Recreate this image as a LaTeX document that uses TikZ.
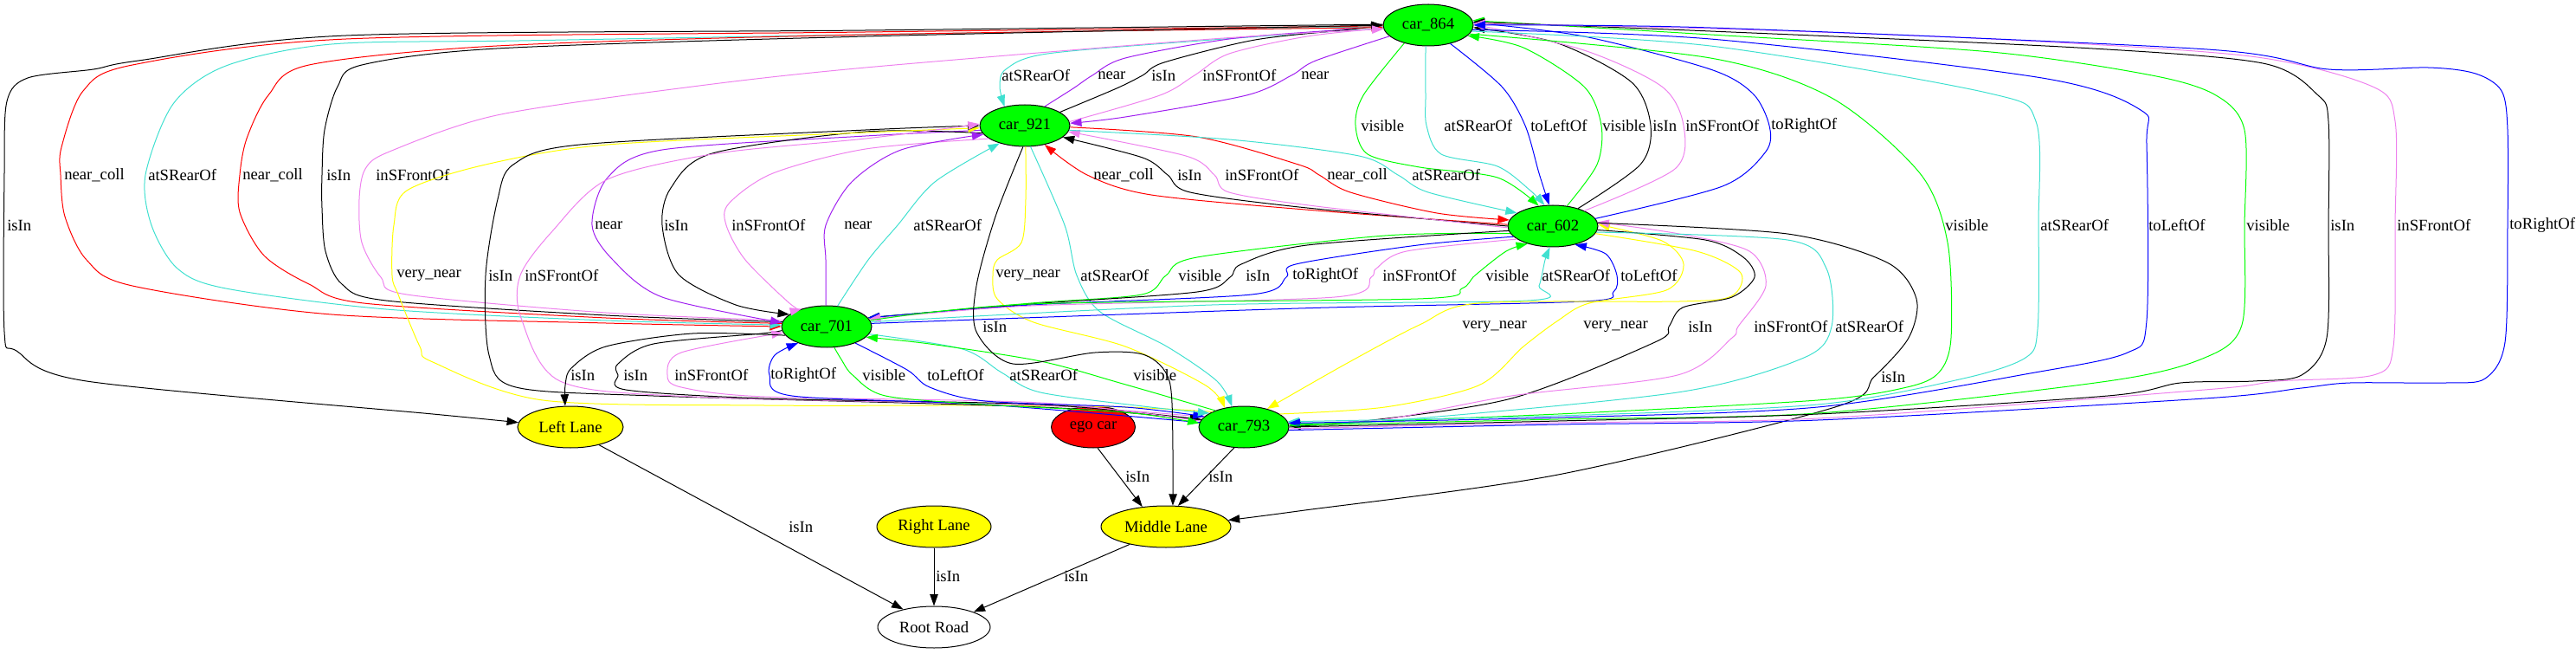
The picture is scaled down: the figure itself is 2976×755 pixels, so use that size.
\documentclass[tikz,border=0pt]{standalone}
\usepackage{fontspec}
\setmainfont{Liberation Serif}
\usetikzlibrary{shapes.geometric,arrows.meta}
\definecolor{gvgreen}{HTML}{00FF00}
\definecolor{gvred}{HTML}{FF0000}
\definecolor{gvyellow}{HTML}{FFFF00}
\definecolor{gvturq}{HTML}{40E0D0}
\definecolor{gvviolet}{HTML}{EE82EE}
\definecolor{gvpurple}{HTML}{A020F0}
\definecolor{gvblue}{HTML}{0000FF}
\newcommand{\gvfont}{\fontsize{14}{16}\selectfont}
\tikzset{
  car/.style={ellipse, draw, line width=0.75pt, fill=gvgreen, minimum width=78pt,
    minimum height=36pt, inner sep=0pt, font=\gvfont},
  lane/.style={car, fill=gvyellow},
  rel/.style={draw=#1, line width=0.75pt, -{Triangle[length=10pt,width=7pt]}},
  rel/.default=black,
  lbl/.style={anchor=west, inner sep=0pt, font=\gvfont}
}
% colour, label name, label position, label text, points of the edge
\newcommand{\relation}[5]{%
  \draw[rel=#1] plot[smooth] coordinates {#5};
  \node[lbl] (#2) at (#3) {#4};}

\begin{document}
\begin{tikzpicture}[x=0.75pt,y=-0.75pt]
\useasboundingbox (0,0) rectangle (2976,755);
% scene graph nodes
\node[car] (c864) at (1650,29) {car\_864};
\node[car] (c921) at (1184,145) {car\_921};
\node[car] (c602) at (1794,261) {car\_602};
\node[car] (c701) at (955,377) {car\_701};
\node[car] (c793) at (1437,493) {car\_793};
\node[lane, minimum width=91.5pt] (ll) at (659,493) {Left Lane};
\node[car, fill=gvred, minimum width=72.75pt] (ego) at (1263,493) {ego car};
\node[lane, minimum width=99pt] (rl) at (1079,608) {Right Lane};
\node[lane, minimum width=112.5pt] (ml) at (1347,608) {Middle Lane};
\node[lane, fill=white, minimum width=97.5pt] (rr) at (1079,724) {Root Road};

% car_864 -- car_921
\relation{gvturq}{l1}{1157,87}{atSRearOf}{(c864.184) (1400,46) (1210,62) (1162,80) (1155,100) (c921.137)}
\relation{gvpurple}{l2}{1268,87}{near}{(c921.44) (1240,102) (1262,87) (1300,67) (1420,45) (1540,35) (c864.181)}
\relation{black}{l3}{1330,87}{isIn}{(c921.21) (1290,102) (1320,87) (1345,72) (1450,46) (1560,34) (c864.180)}
\relation{gvviolet}{l4}{1389,87}{inSFrontOf}{(c921.5) (1340,110) (1380,87) (1420,62) (1510,42) (c864.184)}
\relation{gvpurple}{l5}{1503,87}{near}{(c864.196) (1520,70) (1492,87) (1440,110) (1300,135) (c921.3)}

% car_864 -- car_602
\relation{gvgreen}{l6}{1572,145}{visible}{(c864.217) (1575,110) (1566,145) (1580,178) (1640,193) (1730,205) (c602.125)}
\relation{gvturq}{l7}{1668,145}{atSRearOf}{(c864.263) (1647,110) (1648,145) (1665,178) (1730,192) (1768,220) (c602.112)}
\relation{gvblue}{l8}{1768,145}{toLeftOf}{(c864.320) (1735,100) (1762,145) (1778,200) (c602.100)}
\relation{gvgreen}{l9}{1851,145}{visible}{(c602.55) (1845,190) (1850,145) (1830,100) (1760,55) (c864.345)}
\relation{black}{l10}{1909,145}{isIn}{(c602.35) (1895,190) (1907,145) (1885,95) (1800,50) (c864.357)}
\relation{gvviolet}{l11}{1947,145}{inSFrontOf}{(c602.26) (1935,195) (1945,145) (1920,100) (1830,58) (c864.1)}
\relation{gvblue}{l12}{2046,145}{toRightOf}{(c602.10) (1990,215) (2040,175) (2044,145) (2025,108) (1976,80) (1830,42) (c864.3)}

% car_921 -- car_602
\relation{gvred}{l13}{1263,202}{near\_coll}{(c602.178) (1520,243) (1330,225) (1256,202) (c921.316)}
\relation{black}{l14}{1360,202}{isIn}{(c602.180) (1510,240) (1375,222) (1349,202) (1320,182) (c921.343)}
\relation{gvviolet}{l15}{1415,202}{inSFrontOf}{(c602.182) (1520,238) (1420,222) (1403,202) (1370,180) (c921.352)}
\relation{gvred}{l16}{1533,202}{near\_coll}{(c921.358) (1383,158) (1500,190) (1524,202) (1560,222) (1660,246) (c602.172)}
\relation{gvturq}{l17}{1631,202}{atSRearOf}{(c921.354) (1420,161) (1570,180) (1615,202) (1650,222) (c602.160)}

% car_864 -- car_701, round the left side
\relation{gvred}{l18}{74,202}{near\_coll}{(c864.181) (1000,37) (400,45) (153,75) (96,105) (71,170) (70,202) (75,250) (100,300) (153,330) (383,363) (700,373) (c701.180)}
\relation{gvturq}{l19}{171,202}{atSRearOf}{(c864.182) (1000,40) (600,47) (383,51) (261,76) (200,120) (168,202) (175,260) (205,310) (261,333) (446,357) (700,370) (c701.178)}
\relation{gvred}{l20}{280,202}{near\_coll}{(c701.176) (700,367) (420,350) (357,328) (305,295) (277,245) (277,202) (285,160) (310,110) (357,75) (574,53) (1000,40) (c864.183)}
\relation{black}{l21}{377,202}{isIn}{(c701.174) (700,364) (446,347) (395,328) (376,290) (372,240) (372,202) (375,150) (390,100) (418,75) (574,56) (1000,42) (c864.180)}
\relation{gvviolet}{l22}{434,202}{inSFrontOf}{(c701.172) (700,361) (470,340) (440,320) (418,280) (415,230) (422,195) (450,175) (574,133) (800,100) (1000,78) (1400,45) (c864.185)}
\relation{black}{l23}{8,260}{isIn}{(c864.179) (1000,35) (400,41) (160,70) (108,80) (32,90) (8,117) (5,200) (5,383) (19,405) (100,440) (500,478) (ll.175)}

% car_921 -- car_701
\relation{gvpurple}{l24}{687,260}{near}{(c921.186) (1000,157) (765,173) (702,205) (684,260) (708,300) (765,343) (c701.175)}
\relation{black}{l25}{767,260}{isIn}{(c921.190) (1000,152) (823,177) (775,217) (765,260) (784,317) (850,352) (c701.162)}
\relation{gvviolet}{l26}{845,260}{inSFrontOf}{(c921.200) (1000,172) (893,200) (842,235) (839,260) (861,300) (912,350) (c701.145)}
\relation{gvpurple}{l27}{975,260}{near}{(c701.92) (954,300) (954,260) (984,210) (1041,173) (c921.192)}
\relation{gvturq}{l28}{1055,260}{atSRearOf}{(c701.62) (1003,300) (1037,260) (1080,210) (c921.215)}

% car_921 -- car_793
\relation{gvyellow}{l29}{1150,318}{very\_near}{(c921.272) (1185,230) (1180,280) (1152,300) (1147,318) (1152,345) (1194,372) (1300,400) (1393,445) (c793.135)}
\relation{gvturq}{l30}{1248,318}{atSRearOf}{(c921.285) (1230,260) (1244,318) (1271,360) (1348,400) (1406,440) (c793.120)}
\relation{gvyellow}{l31}{458,318}{very\_near}{(c793.154) (1300,470) (1138,468) (883,468) (627,462) (500,418) (485,400) (460,340) (453,318) (455,260) (470,220) (561,190) (702,167) (1000,153) (c921.183)}
\relation{black}{l32}{564,318}{isIn}{(c793.170) (1202,470) (755,457) (596,447) (565,410) (561,318) (575,230) (593,190) (670,167) (1000,150) (c921.180)}
\relation{gvviolet}{l33}{606,318}{inSFrontOf}{(c793.166) (1202,468) (800,458) (647,440) (602,367) (601,318) (638,267) (702,207) (829,177) (1000,160) (c921.178)}

% car_602 -- car_701
\relation{gvgreen}{l34}{1361,318}{visible}{(c602.190) (1600,272) (1383,297) (1347,318) (1319,340) (1191,350) (c701.12)}
\relation{black}{l35}{1439,318}{isIn}{(c602.186) (1510,283) (1434,305) (1421,320) (1383,337) (1191,351) (c701.12)}
\relation{gvblue}{l36}{1493,318}{toRightOf}{(c602.195) (1638,283) (1497,305) (1486,320) (1446,340) (1191,352) (c701.12)}
\relation{gvviolet}{l37}{1597,318}{inSFrontOf}{(c602.200) (1625,290) (1590,310) (1584,320) (1542,343) (1191,353) (c701.10)}
\relation{gvgreen}{l38}{1716,318}{visible}{(c701.8) (1191,351) (1638,345) (1689,333) (1704,318) (1740,290) (c602.215)}
\relation{gvturq}{l39}{1781,318}{atSRearOf}{(c701.6) (1400,352) (1765,347) (1778,330) (1785,300) (c602.262)}
\relation{gvblue}{l40}{1872,318}{toLeftOf}{(c701.4) (1500,356) (1829,348) (1864,337) (1868,318) (1855,293) (c602.320)}

% car_602 -- car_793
\relation{gvyellow}{l41}{1689,377}{very\_near}{(c602.350) (1960,290) (2011,315) (2000,342) (1940,348) (1708,350) (1640,375) (1555,420) (c793.38)}
\relation{gvyellow}{l42}{1829,377}{very\_near}{(c793.20) (1600,470) (1708,445) (1760,400) (1800,370) (1836,350) (1925,335) (1945,305) (1920,278) (c602.2)}
\relation{black}{l43}{1950,377}{isIn}{(c602.355) (1970,277) (2014,297) (2027,320) (2001,343) (1944,355) (1928,377) (1912,395) (1746,460) (1560,488) (c793.2)}
\relation{gvviolet}{l44}{2026,377}{inSFrontOf}{(c793.4) (1600,484) (1746,457) (1938,433) (2001,390) (2008,377) (2040,330) (2021,290) (1940,270) (c602.5)}
\relation{gvturq}{l45}{2120,377}{atSRearOf}{(c602.352) (2065,277) (2110,310) (2116,377) (2084,413) (1938,453) (1600,486) (c793.6)}
\relation{black}{l46}{2173,435}{isIn}{(c602.4) (2065,270) (2180,303) (2214,345) (2205,390) (2165,435) (2120,470) (1800,548) (1500,590) (ml.6)}

% car_701 -- car_793
\relation{black}{l47}{720,433}{isIn}{(c701.185) (880,385) (755,397) (714,420) (714,433) (723,450) (883,460) (1202,467) (c793.170)}
\relation{gvviolet}{l48}{779,433}{inSFrontOf}{(c793.172) (1202,465) (883,458) (787,447) (771,433) (787,407) (c701.188)}
\relation{gvblue}{l49}{890,433}{toRightOf}{(c793.174) (1138,467) (915,457) (889,433) (895,410) (c701.210)}
\relation{gvgreen}{l50}{996,433}{visible}{(c701.290) (972,415) (985,433) (1023,457) (1138,467) (1300,476) (c793.175)}
\relation{gvblue}{l51}{1071,433}{toLeftOf}{(c701.330) (1048,427) (1074,447) (1138,463) (1300,470) (c793.165)}
\relation{gvturq}{l52}{1166,433}{atSRearOf}{(c701.350) (1112,403) (1157,430) (1202,453) (1329,470) (c793.158)}
\relation{gvgreen}{l53}{1309,433}{visible}{(c793.150) (1297,443) (1202,417) (1074,397) (c701.345)}
\relation{black}{l54}{659,433}{isIn}{(c701.192) (800,385) (700,400) (660,425) (653,445) (ll.104)}

% car_864 -- car_793, round the right side
\relation{gvgreen}{l55}{2247,260}{visible}{(c864.348) (1976,67) (2116,113) (2218,200) (2250,280) (2254,390) (2240,430) (2203,447) (2100,462) (1800,478) (c793.3)}
\relation{gvturq}{l56}{2357,260}{atSRearOf}{(c864.352) (1976,53) (2295,107) (2352,140) (2355,260) (2354,380) (2340,413) (2268,437) (2100,467) (1800,480) (c793.7)}
\relation{gvblue}{l57}{2482,260}{toLeftOf}{(c864.354) (1976,45) (2359,90) (2473,127) (2480,167) (2480,370) (2458,407) (2351,430) (2100,470) (1800,482) (c793.5)}
\relation{gvgreen}{l58}{2595,260}{visible}{(c793.2) (1800,484) (2100,477) (2435,440) (2547,413) (2590,375) (2593,260) (2593,150) (2560,110) (2486,87) (2300,60) (1976,40) (c864.6)}
\relation{black}{l59}{2692,260}{isIn}{(c793.0) (1800,486) (2100,478) (2435,457) (2519,442) (2603,440) (2659,433) (2688,390) (2690,260) (2690,140) (2678,110) (2614,73) (2400,55) (1976,36) (c864.4)}
\relation{gvviolet}{l60}{2769,260}{inSFrontOf}{(c793.358) (1800,488) (2100,483) (2547,450) (2631,440) (2742,433) (2765,400) (2767,260) (2767,140) (2741,100) (2600,65) (2300,45) (1976,33) (c864.2)}
\relation{gvblue}{l61}{2899,260}{toRightOf}{(c793.356) (1800,490) (2100,485) (2547,460) (2659,448) (2715,442) (2826,442) (2871,437) (2894,395) (2897,260) (2897,150) (2890,105) (2860,85) (2805,78) (2690,80) (2550,57) (1976,32) (c864.0)}

% lanes and road
\relation{black}{l62}{1135,377}{isIn}{(c921.265) (1150,250) (1128,330) (1128,383) (1170,420) (1265,407) (1323,410) (1351,440) (1355,520) (ml.72)}
\draw[rel] (ego.282) -- (ml.140);
\node[lbl] (l63) at (1300,550) {isIn};
\draw[rel] (c793.245) -- (ml.60);
\node[lbl] (l64) at (1396,550) {isIn};
\draw[rel] (ll.328) -- (rr.150);
\node[lbl] (l65) at (911,608) {isIn};
\draw[rel] (rl.south) -- (rr.north);
\node[lbl] (l66) at (1081,665) {isIn};
\draw[rel] (ml.206) -- (rr.21);
\node[lbl] (l67) at (1229,665) {isIn};
\end{tikzpicture}
\end{document}
